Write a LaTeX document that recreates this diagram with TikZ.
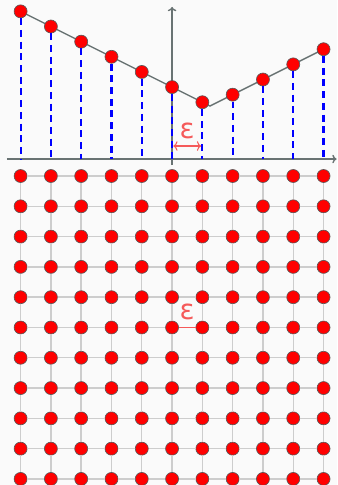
\documentclass[tikz,border=0pt]{standalone}
\usepackage{fontspec}
\newfontfamily\epsfont{DejaVu Sans}
\usetikzlibrary{backgrounds,arrows.meta}
\definecolor{axisgray}{RGB}{105,115,115}
\definecolor{gridgray}{RGB}{205,205,205}
\definecolor{epsred}{RGB}{245,90,90}
\definecolor{paper}{RGB}{250,250,250}
\begin{document}
\begin{tikzpicture}[
                dot/.style={
                    circle,
                    draw=black!65,
                    fill=red,
                    line width=0.6pt,
                    inner sep=0pt,
                    minimum size=0.43cm
                },
                axis/.style={
                    -{To[length=4pt,width=8pt]},
                    line width=1.3pt,
                    draw=axisgray
                },
                curve/.style={
                    line width=1.3pt,
                    draw=axisgray
                },
                drop/.style={
                    draw=blue,
                    line width=2pt,
                    dash pattern=on 6.5pt off 4.5pt
                },
                gridline/.style={
                    line width=1.3pt,
                    draw=gridgray
                },
                epsarrow/.style={
                    {To[length=4pt,width=9pt]}-{To[length=4pt,width=9pt]},
                    line width=1pt,
                    draw=epsred
                },
                epslabel/.style={
                    text=epsred,
                    inner sep=0pt,
                    font=\epsfont\fontsize{26}{28}\selectfont
                }
            ]

                % page
                \begin{pgfonlayer}{background}
                    \fill[paper] (-5.68,-10.76) rectangle (5.45,5.25);
                \end{pgfonlayer}
                \useasboundingbox (-5.68,-10.76) rectangle (5.45,5.25);

                % axes
                \coordinate (xstart) at (-5.45,0);
                \coordinate (xend) at (5.43,0);
                \coordinate (ystart) at (0,-0.2);
                \coordinate (yend) at (0,5.02);
                \draw[axis] (xstart) -- (xend);
                \draw[axis] (ystart) -- (yend);

                % sampled values
                \foreach \c in {0,...,10} {
                    \node[dot] (p\c) at ({\c-5},{1.75+0.5*abs(\c-6.25)}) {};
                    \coordinate (a\c) at ({\c-5},0);
                    \draw[drop] (p\c) -- (a\c);
                }
                \coordinate (vtx) at (1.25,1.75);
                \begin{pgfonlayer}{background}
                    \draw[curve] (p0.center) -- (vtx) -- (p10.center);
                \end{pgfonlayer}

                % spacing
                \coordinate (e0) at (0.04,0.43);
                \coordinate (e1) at (0.96,0.43);
                \draw[epsarrow] (e0) -- (e1);
                \node[epslabel] (eps1) at (0.5,0.93) {ε};

                % lattice
                \foreach \c in {0,...,10} {
                    \foreach \r in {0,...,10} {
                        \node[dot] (g-\c-\r) at ({\c-5},{-0.56-\r}) {};
                    }
                }
                \foreach \c in {0,...,10} {
                    \foreach \r in {0,...,9} {
                        \pgfmathtruncatemacro{\nr}{\r+1}
                        \draw[gridline] (g-\c-\r) -- (g-\c-\nr);
                    }
                }
                \foreach \c in {0,...,9} {
                    \foreach \r in {0,...,10} {
                        \pgfmathtruncatemacro{\nc}{\c+1}
                        \draw[gridline] (g-\c-\r) -- (g-\nc-\r);
                    }
                }
                \draw[epsred, line width=1pt] (g-5-5) -- (g-6-5);
                \node[epslabel] (eps2) at (0.5,-5.05) {ε};
        \end{tikzpicture}
\end{document}
